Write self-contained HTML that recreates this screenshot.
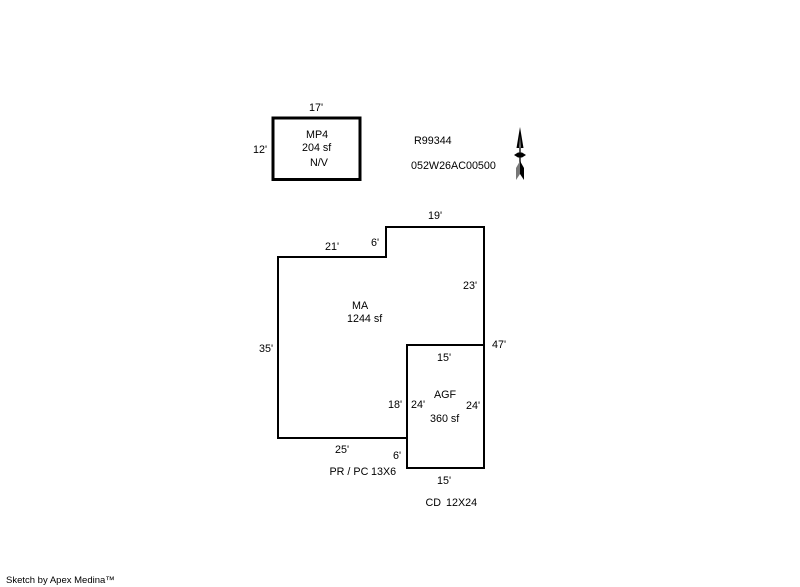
<!DOCTYPE html>
<html>
<head>
<meta charset="utf-8">
<style>
html,body{margin:0;padding:0;background:#fff;width:800px;height:587px;overflow:hidden}
svg{display:block}
text{font-family:"Liberation Sans",Arial,sans-serif;font-size:10.75px;fill:#000;white-space:pre}
</style>
</head>
<body>
<svg width="800" height="587" viewBox="0 0 800 587" xmlns="http://www.w3.org/2000/svg">
<rect width="800" height="587" fill="#fff"/>
<g fill="none" stroke="#000" stroke-linecap="square" shape-rendering="crispEdges">
<rect x="273" y="118" width="87" height="61.5" stroke-width="3"/>
<path d="M278 257H386V227H484V345M278 257V438H407" stroke-width="2"/>
<rect x="407" y="345" width="77" height="123" stroke-width="2"/>
</g>
<g>
<path d="M520 127L523.5 148H516.5Z" fill="#000"/>
<path d="M520 136L521 147H519Z" fill="#777"/>
<rect x="519" y="147" width="2" height="16" fill="#555"/>
<path d="M514 155L518 152.5H522L526 155L522 157.5H518Z" fill="#000"/>
<path d="M520 161L516 168V180L520 174Z" fill="#777"/>
<path d="M520 161L524 168V180L520 174Z" fill="#000"/>
</g>
<text x="309" y="111">17'</text>
<text x="253" y="153">12'</text>
<text x="306" y="138">MP4</text>
<text x="302" y="151">204 sf</text>
<text x="310" y="166">N/V</text>
<text x="414" y="144">R99344</text>
<text x="411" y="169">052W26AC00500</text>
<text x="428" y="219">19'</text>
<text x="325" y="250">21'</text>
<text x="371" y="246">6'</text>
<text x="463" y="289">23'</text>
<text x="352" y="309">MA</text>
<text x="347" y="322">1244 sf</text>
<text x="259" y="352">35'</text>
<text x="492" y="348">47'</text>
<text x="437" y="361">15'</text>
<text x="434" y="398">AGF</text>
<text x="388" y="408">18'</text>
<text x="411" y="408">24'</text>
<text x="466" y="409">24'</text>
<text x="430" y="422">360 sf</text>
<text x="335" y="453">25'</text>
<text x="393" y="459">6'</text>
<text x="329.5" y="475">PR / PC</text>
<text x="371" y="475">13X6</text>
<text x="437" y="484">15'</text>
<text x="425.5" y="506">CD</text>
<text x="446" y="506">12X24</text>
<text x="6" y="583" style="font-size:9.5px;letter-spacing:0">Sketch by Apex Medina™</text>
</svg>
</body>
</html>
